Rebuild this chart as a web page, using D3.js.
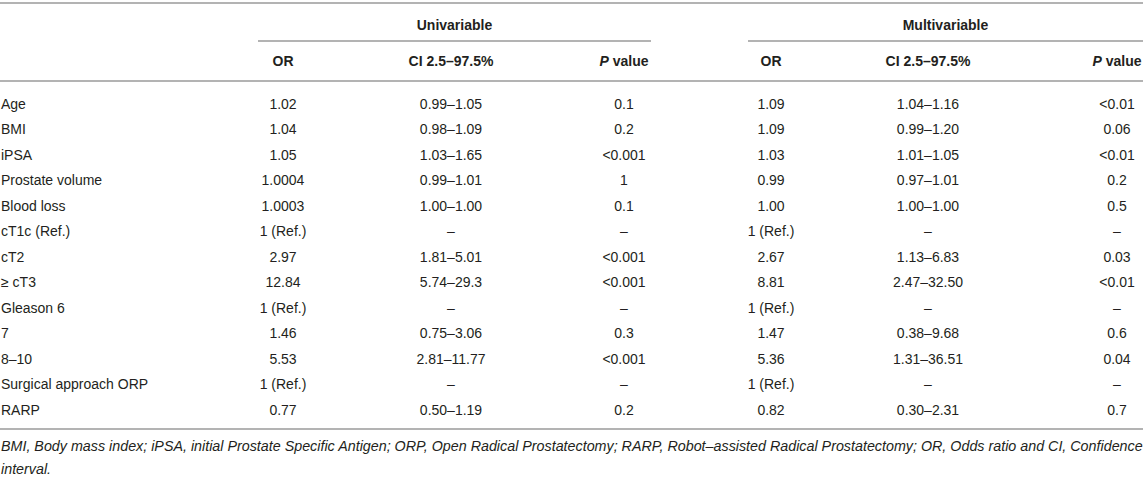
<!DOCTYPE html>
<html>
<head>
<meta charset="utf-8">
<script src="https://cdn.jsdelivr.net/npm/d3@7"></script>
<style>
    body { margin: 0; background: #fff; }
    text { font-family: "Liberation Sans", Arial, sans-serif; fill: #231f20; }
</style>
</head>
<body>
<div id="table"></div>
<script>
const variables = ['Age', 'BMI', 'iPSA', 'Prostate volume', 'Blood loss', 'cT1c (Ref.)', 'cT2', '\u2265 cT3',
    'Gleason 6', '7', '8\u201310', 'Surgical approach ORP', 'RARP'];
const uniOR = ['1.02', '1.04', '1.05', '1.0004', '1.0003', '1 (Ref.)', '2.97', '12.84', '1 (Ref.)', '1.46', '5.53', '1 (Ref.)', '0.77'];
const uniCI = ['0.99\u20131.05', '0.98\u20131.09', '1.03\u20131.65', '0.99\u20131.01', '1.00\u20131.00', '\u2013', '1.81\u20135.01',
    '5.74\u201329.3', '\u2013', '0.75\u20133.06', '2.81\u201311.77', '\u2013', '0.50\u20131.19'];
const uniP = ['0.1', '0.2', '<0.001', '1', '0.1', '\u2013', '<0.001', '<0.001', '\u2013', '0.3', '<0.001', '\u2013', '0.2'];
const multiOR = ['1.09', '1.09', '1.03', '0.99', '1.00', '1 (Ref.)', '2.67', '8.81', '1 (Ref.)', '1.47', '5.36', '1 (Ref.)', '0.82'];
const multiCI = ['1.04\u20131.16', '0.99\u20131.20', '1.01\u20131.05', '0.97\u20131.01', '1.00\u20131.00', '\u2013', '1.13\u20136.83',
    '2.47\u201332.50', '\u2013', '0.38\u20139.68', '1.31\u201336.51', '\u2013', '0.30\u20132.31'];
const multiP = ['<0.01', '0.06', '<0.01', '0.2', '0.5', '\u2013', '0.03', '<0.01', '\u2013', '0.6', '0.04', '\u2013', '0.7'];

const groups = ['Univariable', 'Multivariable'];
const columns = ['uniOR', 'uniCI', 'uniP', 'multiOR', 'multiCI', 'multiP'];
const columnLabels = ['OR', 'CI 2.5\u201397.5%', 'P value', 'OR', 'CI 2.5\u201397.5%', 'P value'];
const footnote = ['BMI, Body mass index; iPSA, initial Prostate Specific Antigen; ORP, Open Radical Prostatectomy; RARP, Robot\u2013assisted Radical Prostatectomy; OR, Odds ratio and CI, Confidence',
    'interval.'];

const width = 1143;
const height = 486;
const fontSize = 14;
const lineColor = '#b3b3b3';

const svg = d3.select('#table')
    .append('svg')
    .attr('width', width)
    .attr('height', height);

const cellValues = { uniOR, uniCI, uniP, multiOR, multiCI, multiP };

// column centres and row positions
const x = d3.scaleOrdinal()
    .domain(columns)
    .range([283, 451, 624, 771, 928, 1117]);

const groupSpan = d3.scaleOrdinal()
    .domain(groups)
    .range([[258, 651], [748, 1143]]);

const y = d3.scalePoint()
    .domain(variables)
    .range([104, 410]);

function hline(x1, x2, yy) {
    svg.append('line')
        .attr('x1', x1).attr('x2', x2)
        .attr('y1', yy).attr('y2', yy)
        .attr('stroke', lineColor)
        .attr('stroke-width', 2);
}

hline(0, width, 3);
hline(0, width, 81);
hline(0, width, 429);

// group headers
groups.forEach(g => {
    const [a, b] = groupSpan(g);
    svg.append('text')
        .attr('x', (a + b) / 2)
        .attr('y', 25)
        .attr('dy', '0.35em')
        .attr('text-anchor', 'middle')
        .attr('font-size', fontSize)
        .attr('font-weight', 'bold')
        .text(g);
    hline(a, b, 41);
});

// column headers
columns.forEach((c, i) => {
    const t = svg.append('text')
        .attr('x', x(c))
        .attr('y', 61)
        .attr('dy', '0.35em')
        .attr('text-anchor', 'middle')
        .attr('font-size', fontSize)
        .attr('font-weight', 'bold');
    if (columnLabels[i] === 'P value') {
        t.append('tspan').attr('font-style', 'italic').text('P');
        t.append('tspan').text(' value');
    } else {
        t.text(columnLabels[i]);
    }
});

// row labels
svg.selectAll('.rowLabel')
    .data(variables)
    .enter()
    .append('text')
    .attr('class', 'rowLabel')
    .attr('x', 1)
    .attr('y', d => y(d))
    .attr('dy', '0.35em')
    .attr('font-size', fontSize)
    .text(d => d);

// cells
columns.forEach(c => {
    svg.selectAll('.cell-' + c)
        .data(cellValues[c])
        .enter()
        .append('text')
        .attr('class', 'cell-' + c)
        .attr('x', x(c))
        .attr('y', (d, i) => y(variables[i]))
        .attr('dy', '0.35em')
        .attr('text-anchor', 'middle')
        .attr('font-size', fontSize)
        .text(d => d);
});

// footnote
svg.selectAll('.footnote')
    .data(footnote)
    .enter()
    .append('text')
    .attr('class', 'footnote')
    .attr('x', 1)
    .attr('y', (d, i) => 446 + i * 23)
    .attr('dy', '0.35em')
    .attr('font-size', 14.3)
    .attr('font-style', 'italic')
    .text(d => d);
</script>
</body>
</html>
